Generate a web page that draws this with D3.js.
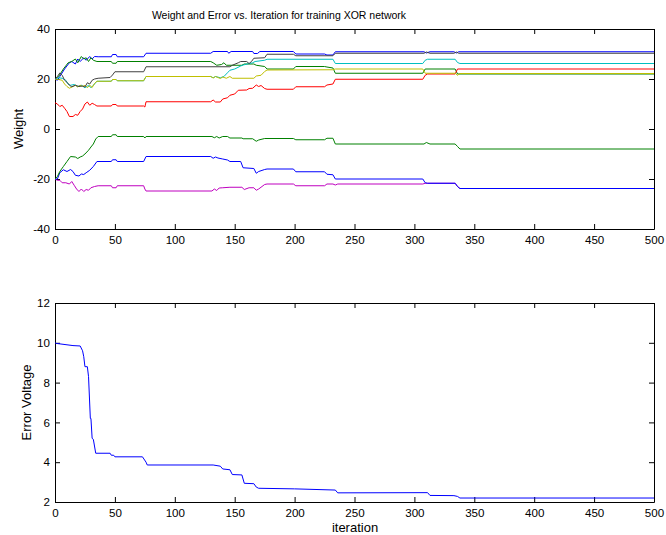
<!DOCTYPE html>
<html>
<head>
<meta charset="utf-8">
<script src="https://cdn.jsdelivr.net/npm/d3@7"></script>
<style>
body { margin: 0; background: #fff; }
text { font-family: "Liberation Sans", Arial, Helvetica, sans-serif; }
</style>
</head>
<body>
<div id="chart"></div>
<script>
const width = 666
const height = 535

// tick values
const xTicks = [0, 50, 100, 150, 200, 250, 300, 350, 400, 450, 500]
const weightTicks = [-40, -20, 0, 20, 40]
const errorTicks = [2, 4, 6, 8, 10, 12]

// weights, [iteration, value] breakpoints
const wBlue1 = [[0,20],[2,19.5],[4,21],[8,24],[12,26.5],[14,27],[17,26],[19,28],[21,27],[24,28.5],[26,27.5],[29,29],[31,28],[33,29],[36,28.9],[47,28.9],[48,29.8],[51,29.8],[52,28.9],[74,28.9],[76,30.3],[130,30.3],[132,31],[144,31],[145,30.3],[147,31],[165,31],[166,30.2],[169,30.2],[171,31],[199,31],[201,30],[225,30],[227,29.6],[232,29.6],[234,30.9],[308,30.9],[310,30.4],[313,30.9],[333,30.9],[335,30.4],[337,30.9],[500,30.9]]
const wGreen1 = [[0,20],[3,21],[7,24],[11,26.5],[14,27],[17,28],[19,26.5],[22,29],[24,28],[26,28.5],[28,27],[30,28.5],[32,27.5],[35,27],[47,27],[48,26.3],[51,26.3],[52,27],[130,27],[132,26.5],[135,25.5],[139,25.8],[141,26.5],[143,25.5],[156,25.5],[158,26],[166,26],[168,25.5],[175,25],[177,24],[199,24],[201,25],[225,25],[227,24.8],[232,24.4],[234,22.3],[307,22.3],[309,24],[334,24],[336,22],[500,22]]
const wRed = [[0,10.5],[2,10],[4,9],[6,9.5],[8,8.3],[10,7],[12,5],[15,5],[17,5.8],[19,5.5],[21,7],[23,8],[25,10],[27,10.8],[29,9.5],[31,10.3],[33,9.8],[35,9.2],[47,9.2],[48,9.8],[51,9.8],[52,9.2],[74,9.2],[75,8.8],[76,10.9],[130,10.9],[132,11.6],[134,10.8],[138,10.8],[140,12],[144,12.5],[146,13.5],[150,14],[153,15.5],[160,15.6],[162,16.2],[165,16.3],[168,17.6],[170,17],[172,17.4],[175,16.2],[177,15.9],[199,15.9],[201,16.9],[225,16.9],[227,17.6],[232,18],[234,19.9],[307,19.9],[309,21.5],[311,22],[334,22],[336,24],[500,24]]
const wCyan = [[0,20],[3,20.5],[6,20.3],[9,19.5],[11,18],[13,17.5],[16,17.8],[19,17],[22,17.5],[25,16.5],[28,17.5],[30,16.5],[32,17.5],[35,19.1],[47,19.1],[48,19.8],[51,19.8],[52,19.3],[74,19.3],[76,21],[130,21],[132,20.5],[134,21],[138,20.5],[141,21],[144,22.5],[146,23.5],[150,24],[155,25.2],[157,25.6],[165,26.5],[167,27],[175,27.5],[177,27.9],[232,27.9],[234,26.2],[307,26.2],[309,27.5],[311,27.9],[334,27.9],[336,26.6],[338,26.2],[500,26.2]]
const wMagenta = [[0,-20],[2,-20.5],[4,-20.5],[6,-21.5],[9,-21.5],[12,-22],[14,-21],[16,-22.5],[18,-24],[20,-25],[22,-24],[24,-25],[26,-24.2],[28,-24.5],[30,-23.5],[33,-23],[36,-22.7],[47,-22.7],[48,-23.5],[51,-23.5],[52,-22.7],[74,-22.7],[75,-24],[76,-24.8],[131,-24.8],[133,-24],[135,-24.6],[137,-23.6],[140,-23.5],[146,-23.3],[156,-23.3],[158,-24.2],[162,-23.5],[166,-23.5],[168,-24.5],[170,-24],[175,-22.2],[177,-22],[199,-22],[201,-22.7],[225,-22.7],[227,-22],[232,-22],[234,-22.4],[236,-22],[307,-22],[309,-21.7],[334,-21.7],[336,-23],[338,-23.8],[500,-23.8]]
const wYellow = [[0,20],[3,19.8],[6,19.5],[8,18],[10,17],[12,16.3],[15,17],[17,17.5],[19,16.8],[21,17.5],[23,17],[25,17.5],[27,16.5],[29,17.5],[31,16.6],[33,18.2],[35,19.1],[47,19.1],[48,19.8],[51,19.8],[52,19.3],[74,19.3],[76,21],[130,21],[132,20.4],[134,21],[138,20.2],[140,20.8],[143,20.3],[146,21],[148,20.3],[166,20.3],[168,21.2],[172,21.5],[175,23],[177,23.6],[232,23.7],[234,24],[307,24],[309,22.3],[334,22.3],[336,21.5],[338,22.2],[500,22.2]]
const wBlack = [[0,20],[2,21],[4,22.4],[6,21.5],[8,19.5],[10,18.7],[12,17.5],[14,16.9],[17,17.5],[20,17],[23,17.2],[25,16.8],[27,18.5],[29,18],[31,19.5],[33,20],[36,20.3],[46,20.6],[48,21.6],[50,22.9],[74,22.9],[76,24.9],[146,24.9],[148,25.5],[153,26.5],[155,27],[160,27],[162,26.2],[164,27],[166,28.3],[175,28.5],[177,29.9],[199,29.9],[201,29.3],[232,29.3],[234,30.3],[308,30.3],[310,30.8],[313,30.3],[333,30.3],[335,30.8],[337,30.3],[500,30.3]]
const wBlue2 = [[0,-20],[2,-20],[4,-17.5],[7,-16.3],[10,-17],[13,-16.2],[15,-17],[17,-18.5],[20,-18.8],[22,-18],[24,-18.2],[26,-17.5],[29,-16.5],[32,-15],[35,-13],[47,-13],[48,-12.3],[51,-12.3],[52,-13],[74,-13],[76,-11],[130,-11],[132,-11.7],[134,-11.2],[136,-11.6],[140,-12],[144,-12.4],[146,-13],[155,-13],[157,-15.5],[166,-15.8],[168,-17.7],[170,-17],[175,-16.2],[177,-16],[199,-16],[201,-17.1],[225,-17.1],[227,-18.1],[232,-18.3],[234,-20],[307,-20],[309,-21.5],[311,-21.7],[334,-21.7],[336,-23],[338,-23.8],[500,-23.8]]
const wGreen2 = [[0,-20],[2,-19],[4,-17],[7,-15],[10,-13],[13,-11],[17,-11.2],[19,-11.8],[21,-11.2],[23,-10.8],[25,-10],[28,-8.5],[30,-7.2],[32,-6],[34,-4],[36,-3],[47,-3],[48,-2.3],[51,-2.3],[52,-3],[74,-3],[75,-3.6],[76,-3],[131,-3],[133,-3.5],[135,-3],[137,-3.6],[140,-3],[144,-3],[146,-3.6],[156,-3.6],[157,-3.9],[165,-3.9],[168,-4.9],[170,-4.4],[175,-3.8],[199,-3.8],[201,-4.3],[225,-4.3],[227,-3.7],[232,-3.7],[234,-6],[308,-6],[310,-5.4],[313,-6],[334,-6],[336,-7],[338,-8],[500,-8]]

const errorVoltage = [[0,10],[1,9.97],[15,9.86],[21,9.84],[23,9.6],[24,9.3],[25,8.8],[27,8.8],[28,8.3],[29.5,6.2],[30,6.2],[31,5.2],[32,5.15],[34,4.45],[46,4.45],[47,4.35],[49,4.35],[50,4.27],[73,4.27],[76,4.0],[77,3.86],[132,3.86],[138,3.8],[140,3.66],[146,3.62],[148,3.38],[156,3.36],[158,2.94],[166,2.92],[168,2.75],[170,2.69],[200,2.66],[234,2.6],[236,2.46],[311,2.47],[313,2.33],[333,2.32],[336,2.28],[338,2.2],[500,2.2]]

// matlab default colour order
const weights = [wBlue1, wGreen1, wRed, wCyan, wMagenta, wYellow, wBlack, wBlue2, wGreen2]
const colors = ["#0000ff", "#008000", "#ff0000", "#00bfbf", "#bf00bf", "#bfbf00", "#404040", "#0000ff", "#008000"]

const plotLeft = 55
const plotRight = 654
const top1 = {top: 29, bottom: 229}
const top2 = {top: 303, bottom: 502}

const svg = d3.select("div#chart").append("svg").attr("width", width).attr("height", height)

const x = d3.scaleLinear().domain([0, 500]).range([plotLeft, plotRight])
const yW = d3.scaleLinear().domain([-40, 40]).range([top1.bottom, top1.top])
const yE = d3.scaleLinear().domain([2, 12]).range([top2.bottom, top2.top])

function drawAxes(y, ticks, box) {
    const g = svg.append("g").attr("class", "axisGroup")
    const fmt = d => String(d)
    g.append("g").attr("transform", `translate(0, ${box.bottom})`)
        .call(d3.axisBottom(x).tickValues(xTicks).tickSize(-5).tickSizeOuter(0).tickPadding(7).tickFormat(fmt))
    g.append("g").attr("transform", `translate(0, ${box.top})`)
        .call(d3.axisTop(x).tickValues(xTicks).tickSize(-5).tickSizeOuter(0).tickFormat(""))
    g.append("g").attr("transform", `translate(${plotLeft}, 0)`)
        .call(d3.axisLeft(y).tickValues(ticks).tickSize(-5).tickSizeOuter(0).tickPadding(5).tickFormat(fmt))
    g.append("g").attr("transform", `translate(${plotRight}, 0)`)
        .call(d3.axisRight(y).tickValues(ticks).tickSize(-5).tickSizeOuter(0).tickFormat(""))
    g.selectAll("text").attr("font-size", 11.6).attr("fill", "#000")
        .style("font-family", "'Liberation Sans', Arial, Helvetica, sans-serif")
    g.selectAll("path, line").attr("stroke", "#000")
}

drawAxes(yW, weightTicks, top1)
drawAxes(yE, errorTicks, top2)

const lineW = d3.line().x(d => x(d[0])).y(d => yW(d[1]))
const lineE = d3.line().x(d => x(d[0])).y(d => yE(d[1]))

const elementGroup = svg.append("g").attr("class", "elementGroup")
elementGroup.selectAll("path.weight").data(weights).enter()
    .append("path")
    .attr("class", "weight")
    .attr("d", d => lineW(d))
    .attr("fill", "none")
    .attr("stroke", (d, i) => colors[i])
    .attr("stroke-width", 1)

elementGroup.append("path")
    .attr("d", lineE(errorVoltage))
    .attr("fill", "none")
    .attr("stroke", "#0000ff")
    .attr("stroke-width", 1)

// titles and labels
svg.append("text").attr("x", 279).attr("y", 18.5).attr("text-anchor", "middle")
    .attr("font-size", 10.5).text("Weight and Error vs. Iteration for training XOR network")
svg.append("text").attr("transform", "translate(22.5, 129) rotate(-90)").attr("text-anchor", "middle")
    .attr("font-size", 13).text("Weight")
svg.append("text").attr("transform", "translate(31, 402.5) rotate(-90)").attr("text-anchor", "middle")
    .attr("font-size", 13).text("Error Voltage")
svg.append("text").attr("x", 355).attr("y", 532).attr("text-anchor", "middle")
    .attr("font-size", 13).text("iteration")
</script>
</body>
</html>
